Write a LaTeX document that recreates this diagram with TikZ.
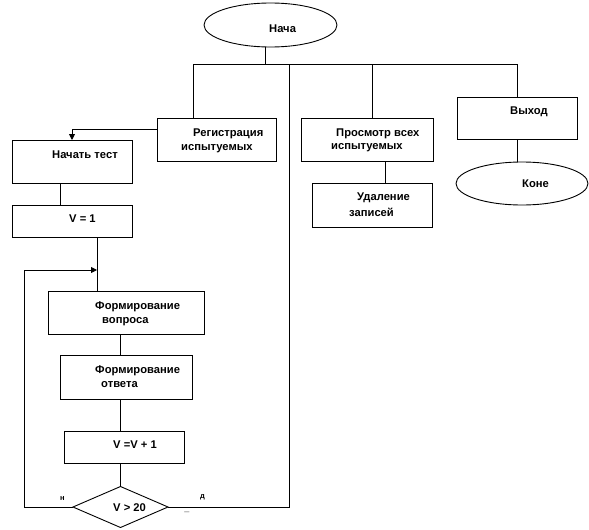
\documentclass[tikz,border=0pt]{standalone}
\usepackage{fontspec}
\setmainfont{Liberation Sans}
\usetikzlibrary{arrows.meta,shapes.geometric}
\begin{document}
\begin{tikzpicture}[x=1pt,y=-1pt,
  box/.style={draw,line width=0.9pt,inner sep=0pt,outer sep=0pt},
  oval/.style={draw,ellipse,line width=0.9pt,inner sep=0pt,outer sep=0pt},
  dia/.style={draw,diamond,line width=0.9pt,inner sep=0pt,outer sep=0pt},
  lbl/.style={anchor=west,inner sep=0pt,font=\fontsize{11.2}{12}\selectfont\bfseries},
  sm/.style={anchor=west,inner sep=0pt,font=\fontsize{7.5}{8}\selectfont\bfseries},
  ln/.style={line width=0.9pt},
  arr/.style={line width=0.9pt,-{Triangle[length=6pt,width=6pt]}}]
\useasboundingbox (0,0) rectangle (589,530);
% shapes
\node[oval,minimum width=133pt,minimum height=44pt] (start) at (270.5,25) {};
\node[box,minimum width=119pt,minimum height=43pt] (reg) at (216.5,139.5) {};
\node[box,minimum width=120pt,minimum height=43pt] (test) at (72,161.5) {};
\node[box,minimum width=120pt,minimum height=32pt] (v1) at (72,221) {};
\node[box,minimum width=156pt,minimum height=43pt] (q) at (126,312.5) {};
\node[box,minimum width=132pt,minimum height=44pt] (a) at (126,377) {};
\node[box,minimum width=120pt,minimum height=32pt] (inc) at (124,447) {};
\node[dia,minimum width=95pt,minimum height=41pt] (cond) at (120.5,507) {};
\node[box,minimum width=132pt,minimum height=43pt] (view) at (367,139.5) {};
\node[box,minimum width=120pt,minimum height=44pt] (del) at (372.5,205) {};
\node[box,minimum width=120pt,minimum height=42pt] (exit) at (517,118) {};
\node[oval,minimum width=132pt,minimum height=43pt] (end) at (522,183.5) {};
% texts
\node[lbl] (tstart) at (269,29) {Нача};
\node[lbl] (treg1) at (193,133.5) {Регистрация};
\node[lbl] (treg2) at (181,148.5) {испытуемых};
\node[lbl] (ttest) at (52,155) {Начать тест};
\node[lbl] (tv1) at (69,219) {V = 1};
\node[lbl] (tview1) at (336,133.5) {Просмотр всех};
\node[lbl] (tview2) at (331,148) {испытуемых};
\node[lbl] (tdel1) at (357,198) {Удаление};
\node[lbl] (tdel2) at (349,212) {записей};
\node[lbl] (texit) at (510,112) {Выход};
\node[lbl] (tend) at (522,184) {Коне};
\node[lbl] (tq1) at (95,307) {Формирование};
\node[lbl] (tq2) at (102,322) {вопроса};
\node[lbl] (ta1) at (95,371) {Формирование};
\node[lbl] (ta2) at (101,385) {ответа};
\node[lbl] (tinc) at (113,445) {V =V + 1};
\node[lbl] (tcond) at (113,508) {V > 20};
\node[sm] (tno) at (60,499) {н};
\node[sm] (tyes) at (200,497) {д};
\node[anchor=base,inner sep=0pt,font=\fontsize{9}{10}\selectfont\bfseries] (tus) at (187,511) {\_};
% coordinates
\coordinate (bus) at (265,64);
\coordinate (mid) at (289,64);
\coordinate (loopin) at (97,270);
% connectors
\draw[ln] (start.south -| bus) -- (bus);
\draw[ln] (193,64) -- (517,64);
\draw[ln] (193,64) -- (reg.north -| 193,0);
\draw[ln] (372,64) -- (view.north -| 372,0);
\draw[ln] (517,64) -- (exit.north);
\draw[ln] (exit.south) -- (517,162.3);
\draw[ln] (view.south -| 385,0) -- (del.north -| 385,0);
\draw[arr] (reg.west |- 0,129) -| (test.north);
\draw[ln] (test.south -| 60,0) -- (v1.north -| 60,0);
\draw[ln] (v1.south -| loopin) -- (q.north -| loopin);
\draw[ln] (q.south -| 120,0) -- (a.north -| 120,0);
\draw[ln] (a.south -| 120,0) -- (inc.north -| 120,0);
\draw[ln] (inc.south -| cond.north) -- (cond.north);
\draw[arr] (cond.west) -- (24,507) -- (24,270) -- (loopin);
\draw[ln] (cond.east) -- (289,507) -- (mid);
\end{tikzpicture}
\end{document}
